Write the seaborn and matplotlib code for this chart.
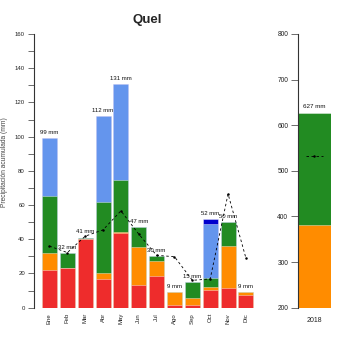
import numpy as np
import pandas as pd
import matplotlib
matplotlib.use("Agg")
import matplotlib.pyplot as plt
from matplotlib.ticker import MultipleLocator
import seaborn as sns

# Monthly accumulated precipitation, split into coloured bands (mm)
months = ["Ene", "Feb", "Mar", "Abr", "May", "Jun",
          "Jul", "Ago", "Sep", "Oct", "Nov", "Dic"]
band_red    = [22.0, 23.0, 40.0, 16.8, 43.5, 13.5, 18.7, 1.6, 1.8, 10.4, 11.7, 7.4]
band_orange = [10.2, 0.0, 0.4, 3.5, 0.5, 22.0, 8.3, 7.6, 3.9, 1.7, 24.3, 1.8]
band_green  = [33.2, 9.0, 0.6, 41.4, 30.7, 11.5, 3.0, 0.0, 9.3, 5.3, 14.0, 0.0]
band_blue   = [33.6, 0.0, 0.0, 50.3, 56.3, 0.0, 0.0, 0.0, 0.0, 31.4, 0.0, 0.0]
band_navy   = [0.0, 0.0, 0.0, 0.0, 0.0, 0.0, 0.0, 0.0, 0.0, 3.2, 0.0, 0.0]

# Monthly mean reference precipitation (mm)
monthly_mean = [36.0, 32.2, 41.8, 45.5, 56.6, 43.0, 30.6, 29.8, 16.0, 16.8, 66.5, 29.0]

# Annual bar
year_label = ["2018"]
annual_bands = [190.0, 191.0, 246.4]   # red, orange, green
annual_mean = [532.0]

colors = ["#EE2C2C", "#FF8C00", "#228B22", "#6495ED", "#0000CD"]
bands = [band_red, band_orange, band_green, band_blue, band_navy]

sns.set_style("white")
plt.rcParams["font.family"] = ["Liberation Sans", "DejaVu Sans"]

fig = plt.figure(figsize=(3.5, 3.5), dpi=100)
ax = fig.add_axes([0.097, 0.1209, 0.65, 0.782])
ax2 = fig.add_axes([0.8514, 0.1209, 0.0943, 0.782])

edge = (1, 1, 1, 0.45)

# Stacked bars: draw cumulative heights from the top band down
cum = np.cumsum(np.array(bands), axis=0)
for level in range(len(bands) - 1, -1, -1):
    df = pd.DataFrame({"mes": months, "pp": cum[level]})
    sns.barplot(data=df, x="mes", y="pp", color=colors[level], saturation=1,
                width=0.84, edgecolor=edge, linewidth=0.6, ax=ax)

totals = cum[-1]
for i, t in enumerate(totals):
    ax.text(i, t + 1.8, f"{t:.0f} mm", ha="center", va="bottom",
            fontsize=4.3, color="#111111", zorder=5)

sns.lineplot(x=np.arange(len(months)), y=monthly_mean, ax=ax, color="black",
             linewidth=0.6, linestyle=(0, (3, 3)), marker="o", markersize=1.8,
             markeredgewidth=0, zorder=4)

ax.set_xlim(-0.87, 11.87)
ax.set_ylim(0, 160)
ax.yaxis.set_major_locator(MultipleLocator(20))
ax.yaxis.set_minor_locator(MultipleLocator(10))
ax.tick_params(axis="y", which="both", left=True, length=4, width=0.6,
               color="#555555", labelsize=4.3, labelcolor="#222222", pad=2.5)
ax.tick_params(axis="x", length=0, labelsize=4.3, labelcolor="#222222",
               rotation=90, pad=3.8)
ax.set_xlabel("")
ax.set_ylabel("Precipitación acumulada (mm)", fontsize=4.8, color="#444444")
ax.yaxis.set_label_coords(-0.112, 0.53)
for s in ["top", "right", "bottom"]:
    ax.spines[s].set_visible(False)
ax.spines["left"].set_color("#333333")
ax.spines["left"].set_linewidth(0.8)
ax.set_title("Quel", fontsize=9.5, fontweight="bold", pad=8)

# Annual panel
acum = np.cumsum(annual_bands)
for level in range(len(annual_bands) - 1, -1, -1):
    df = pd.DataFrame({"anyo": year_label, "pp": [acum[level]]})
    sns.barplot(data=df, x="anyo", y="pp", color=colors[level], saturation=1,
                width=1.0, edgecolor=edge, linewidth=0.6, ax=ax2)
ax2.text(0, acum[-1] + 8, f"{acum[-1]:.0f} mm", ha="center", va="bottom",
         fontsize=4.5, color="#111111")
sns.lineplot(x=[-0.27, 0.27], y=annual_mean * 2, ax=ax2, color="black",
             linewidth=0.6, linestyle=(0, (3, 3)))
ax2.plot([0], annual_mean, "o", color="black", markersize=1.8, markeredgewidth=0)

ax2.set_xlim(-0.5, 0.5)
ax2.set_ylim(200, 800)
ax2.yaxis.set_major_locator(MultipleLocator(100))
ax2.tick_params(axis="y", left=True, length=5, width=0.6, color="#555555",
                labelsize=4.8, labelcolor="#222222", pad=2)
ax2.tick_params(axis="x", length=0, labelsize=5, labelcolor="#222222", pad=7)
ax2.set_xlabel("")
ax2.set_ylabel("")
for s in ["top", "right", "bottom"]:
    ax2.spines[s].set_visible(False)
ax2.spines["left"].set_color("#333333")
ax2.spines["left"].set_linewidth(0.8)

fig.savefig("out.png", dpi=100)
